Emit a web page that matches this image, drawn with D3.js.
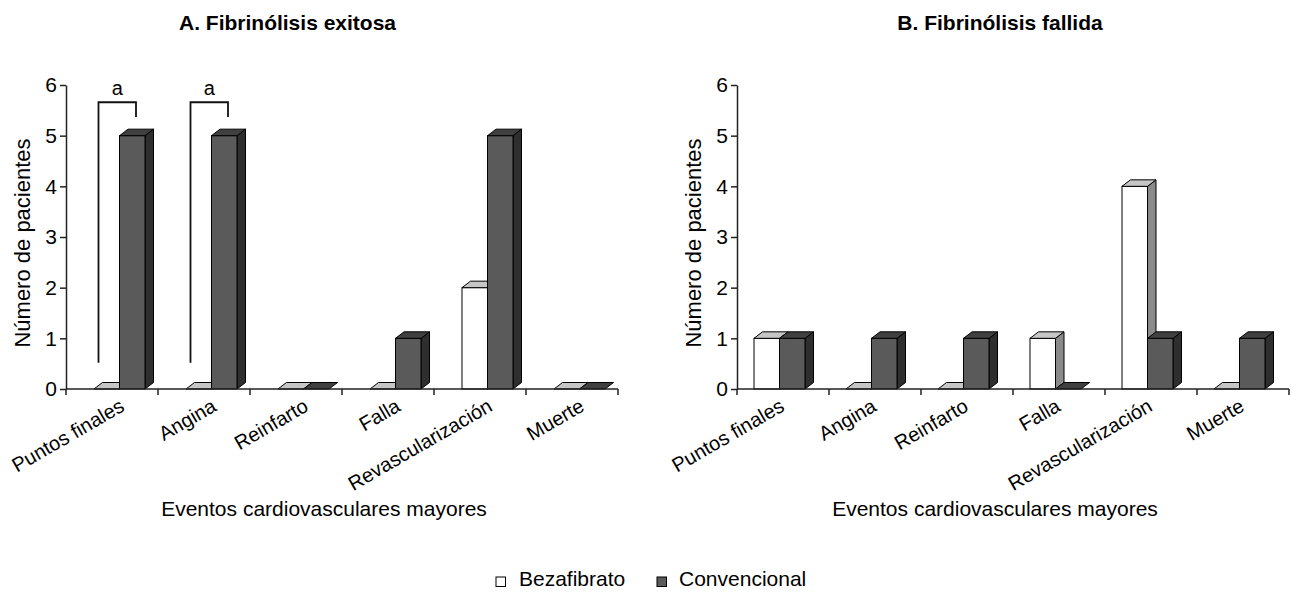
<!DOCTYPE html>
<html>
<head>
<meta charset="utf-8">
<script src="https://cdn.jsdelivr.net/npm/d3@7"></script>
<style>
  html, body { margin: 0; padding: 0; background: #fff; }
  svg { display: block; }
  text { font-family: "Liberation Sans", Arial, Helvetica, sans-serif; fill: #000; }
</style>
</head>
<body>
<svg id="chart" width="1291" height="592"></svg>
<script>
const categories = ["Puntos finales", "Angina", "Reinfarto", "Falla", "Revascularización", "Muerte"];
const seriesNames = ["Bezafibrato", "Convencional"];
const exitosaBezafibrato = [0, 0, 0, 0, 2, 0];
const exitosaConvencional = [5, 5, 0, 1, 5, 0];
const fallidaBezafibrato = [1, 0, 0, 1, 4, 0];
const fallidaConvencional = [1, 1, 1, 0, 1, 1];
const yTicks = [0, 1, 2, 3, 4, 5, 6];
const bracketCategories = ["Puntos finales", "Angina"];
const bracketLabel = "a";
const panelTitles = ["A. Fibrinólisis exitosa", "B. Fibrinólisis fallida"];
const yLabel = "Número de pacientes";
const xLabel = "Eventos cardiovasculares mayores";

const svg = d3.select("#chart");
const FONT = 21;
const depthX = 8.5, depthY = -6.5;
const barW = 25.5;

const colors = {
  Bezafibrato: { front: "#ffffff", top: "#c6c6c6", side: "#8a8a8a" },
  Convencional: { front: "#5a5a5a", top: "#404040", side: "#2e2e2e" }
};

const panels = [
  { title: panelTitles[0], titleX: 287.5, x0: 66, x1: 618, offset: 28, bez: exitosaBezafibrato, conv: exitosaConvencional, brackets: true, xLabelX: 324 },
  { title: panelTitles[1], titleX: 1000, x0: 737, x1: 1289, offset: 17, bez: fallidaBezafibrato, conv: fallidaConvencional, brackets: false, xLabelX: 995 }
];

const y = d3.scaleLinear().domain([0, 6]).range([389, 85]);

function drawBar(g, x, value, c) {
  const yb = y(0), yt = y(value);
  if (value > 0) {
    g.append("path")
      .attr("d", `M${x + barW},${yt} L${x + barW + depthX},${yt + depthY} L${x + barW + depthX},${yb + depthY} L${x + barW},${yb} Z`)
      .attr("fill", c.side).attr("stroke", "#000").attr("stroke-width", 1).attr("stroke-linejoin", "round");
    g.append("rect")
      .attr("x", x).attr("y", yt).attr("width", barW).attr("height", yb - yt)
      .attr("fill", c.front).attr("stroke", "#000").attr("stroke-width", 1);
  }
  g.append("path")
    .attr("d", `M${x},${yt} L${x + depthX},${yt + depthY} L${x + barW + depthX},${yt + depthY} L${x + barW},${yt} Z`)
    .attr("fill", c.top).attr("stroke", "#000").attr("stroke-width", 1).attr("stroke-linejoin", "round");
}

panels.forEach(p => {
  const g = svg.append("g");
  const x = d3.scaleBand().domain(categories).range([p.x0, p.x1]).paddingInner(0).paddingOuter(0);

  // Title
  g.append("text").attr("x", p.titleX).attr("y", 30).attr("text-anchor", "middle")
    .attr("font-size", 21).attr("font-weight", "bold").text(p.title);

  // Y axis
  const yAxis = d3.axisLeft(y).tickValues(yTicks).tickSize(6).tickSizeOuter(0).tickPadding(3).tickFormat(d3.format("d"));
  const ga = g.append("g").attr("transform", `translate(${p.x0},0)`).call(yAxis);
  ga.selectAll("path.domain").attr("stroke", "#222").attr("stroke-width", 1.5);
  ga.selectAll(".tick line").attr("stroke", "#222").attr("stroke-width", 1.5);
  ga.selectAll(".tick text").attr("font-size", FONT).attr("font-family", "Liberation Sans, Arial, sans-serif").attr("fill", "#000");

  // Y label
  g.append("text").attr("transform", `translate(${p.x0 - 36},${243}) rotate(-90)`)
    .attr("text-anchor", "middle").attr("font-size", 22).text(yLabel);

  // Bars
  categories.forEach((cat, i) => {
    const bx = x(cat) + p.offset;
    drawBar(g, bx, p.bez[i], colors.Bezafibrato);
    drawBar(g, bx + barW, p.conv[i], colors.Convencional);
  });

  // X axis line and ticks at band edges
  g.append("line").attr("x1", p.x0).attr("x2", p.x1).attr("y1", y(0)).attr("y2", y(0))
    .attr("stroke", "#222").attr("stroke-width", 1.5);
  const edges = categories.map(c => x(c)).concat([p.x1]);
  g.selectAll("line.xt").data(edges).enter().append("line")
    .attr("x1", d => d).attr("x2", d => d).attr("y1", y(0)).attr("y2", y(0) + 6)
    .attr("stroke", "#222").attr("stroke-width", 1.5);

  // Category labels
  categories.forEach(cat => {
    const cx = x(cat) + p.offset + barW + depthX / 2 + 2;
    g.append("text").attr("transform", `translate(${cx},410) rotate(-30)`)
      .attr("text-anchor", "end").attr("font-size", 20).text(cat);
  });

  // X label
  g.append("text").attr("x", p.xLabelX).attr("y", 516).attr("text-anchor", "middle")
    .attr("font-size", FONT).text(xLabel);

  // Significance brackets
  if (p.brackets) {
    bracketCategories.forEach(cat => {
      const bx = x(cat) + p.offset;
      const left = bx + 4.5, right = bx + barW + 16.5;
      g.append("path")
        .attr("d", `M${left},${y(0.52)} L${left},${y(5.66)} L${right},${y(5.66)} L${right},${y(5.37)}`)
        .attr("fill", "none").attr("stroke", "#111").attr("stroke-width", 1.8);
      g.append("text").attr("x", (left + right) / 2).attr("y", y(5.66) - 7)
        .attr("text-anchor", "middle").attr("font-size", 20).text(bracketLabel);
    });
  }
});

// Legend
const legend = svg.append("g");
const legendItems = [
  { name: seriesNames[0], sx: 496, tx: 519, c: colors.Bezafibrato.front },
  { name: seriesNames[1], sx: 657, tx: 679, c: colors.Convencional.front }
];
legendItems.forEach(it => {
  legend.append("rect").attr("x", it.sx).attr("y", 577).attr("width", 9.5).attr("height", 9.5)
    .attr("fill", it.c).attr("stroke", "#000").attr("stroke-width", 1);
  legend.append("text").attr("x", it.tx).attr("y", 586).attr("font-size", FONT).text(it.name);
});
</script>
</body>
</html>
